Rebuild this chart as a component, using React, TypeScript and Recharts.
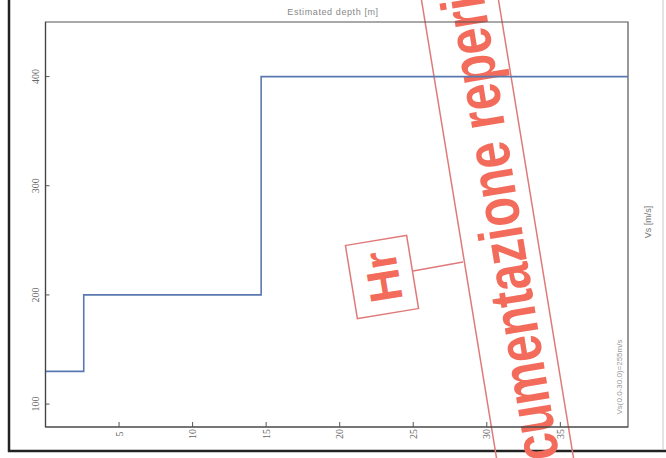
import React from 'react';
import { LineChart, Line, XAxis, YAxis, ReferenceArea, Customized } from 'recharts';

const depthM = [0, 2.6, 14.66, 39.6];
const vsValues = [130, 200, 400, 400];
const xTicks = [5, 10, 15, 20, 25, 30, 35];
const yTicks = [100, 200, 300, 400];
const xDomain = [0, 39.6];
const yDomain = [79, 450];

const titleText = 'Estimated depth [m]';
const rightLabel = 'Vs [m/s]';
const vs30Text = 'Vs(0.0-30.0)=255m/s';
const stampText = 'cumentazione reperi';
const stampBox = 'Hr';

const data = depthM.map((d, i) => ({ depth: d, vs: vsValues[i] }));

const tickFont = 'Liberation Serif, serif';

const XTick = (props: any) => {
  const { x, y, payload } = props;
  return (
    <g>
      <line x1={x} y1={y} x2={x} y2={y - 5} stroke="#555" strokeWidth={1} />
      <text
        x={0}
        y={0}
        transform={`translate(${x},${y + 7}) rotate(-90)`}
        textAnchor="middle"
        dominantBaseline="central"
        fontSize={10}
        fontFamily={tickFont}
        fill="#666"
      >
        {payload.value}
      </text>
    </g>
  );
};

const YTick = (props: any) => {
  const { x, y, payload } = props;
  return (
    <g>
      <line x1={x} y1={y} x2={x + 4} y2={y} stroke="#555" strokeWidth={1} />
      <text
        x={0}
        y={0}
        transform={`translate(${x - 10},${y}) rotate(-90)`}
        textAnchor="middle"
        dominantBaseline="central"
        fontSize={10}
        fontFamily={tickFont}
        fill="#666"
      >
        {payload.value}
      </text>
    </g>
  );
};

const Decorations = () => {
  const red = '#f26b5b';
  const redLine = '#e07a7a';
  return (
    <g>
      {/* outer scan frame */}
      <line x1={9} y1={0} x2={9} y2={452} stroke="#222" strokeWidth={2.5} />
      <line x1={8} y1={451} x2={666} y2={451} stroke="#222" strokeWidth={2.5} />
      <line x1={663} y1={0} x2={663} y2={450} stroke="#c8c8c8" strokeWidth={1} />
      {/* texts */}
      <text x={333} y={15} textAnchor="middle" fontSize={9} fontFamily="Liberation Sans, sans-serif" fill="#888" letterSpacing={0.6}>
        {titleText}
      </text>
      <text
        x={0}
        y={0}
        transform="translate(648,222) rotate(-90)"
        textAnchor="middle"
        dominantBaseline="central"
        fontSize={9}
        fontFamily="Liberation Sans, sans-serif"
        fill="#777"
      >
        {rightLabel}
      </text>
      <text
        x={0}
        y={0}
        transform="translate(619,377) rotate(-90)"
        textAnchor="middle"
        dominantBaseline="central"
        fontSize={8}
        fontFamily="Liberation Sans, sans-serif"
        fill="#999"
      >
        {vs30Text}
      </text>
      {/* stamp band */}
      <g transform="translate(497.5,229) rotate(-99.3)">
        <rect x={-320} y={-38} width={640} height={76} fill="none" stroke={redLine} strokeWidth={1.5} />
        <text
          x={0}
          y={24}
          textAnchor="middle"
          fontSize={62}
          fontWeight="bold"
          fontFamily="Liberation Sans, Arial, sans-serif"
          fill={red}
          textLength={470}
          lengthAdjust="spacingAndGlyphs"
        >
          {stampText}
        </text>
      </g>
      <line x1={413} y1={271} x2={463} y2={262} stroke={redLine} strokeWidth={1.5} />
      <g transform="translate(382,277) rotate(-99.3)">
        <rect x={-37} y={-31} width={74} height={62} fill="white" fillOpacity={0} stroke={redLine} strokeWidth={1.5} />
        <text
          x={0}
          y={17}
          textAnchor="middle"
          fontSize={46}
          fontWeight="bold"
          fontFamily="Liberation Sans, Arial, sans-serif"
          fill={red}
        >
          {stampBox}
        </text>
      </g>
    </g>
  );
};

export default function App() {
  return (
    <div style={{ position: 'absolute', left: 0, top: 0, background: '#fff' }}>
      <LineChart
        width={666}
        height={458}
        data={data}
        margin={{ top: 22, right: 38, bottom: 0, left: 9.5 }}
      >
        <XAxis
          dataKey="depth"
          type="number"
          domain={xDomain}
          ticks={xTicks}
          allowDataOverflow
          height={31}
          tickSize={0}
          tickMargin={0}
          tickLine={false}
          axisLine={{ stroke: '#444', strokeWidth: 1.2 }}
          tick={<XTick />}
        />
        <YAxis
          type="number"
          domain={yDomain}
          ticks={yTicks}
          allowDataOverflow
          width={36}
          tickSize={0}
          tickMargin={0}
          tickLine={false}
          axisLine={{ stroke: '#444', strokeWidth: 1.2 }}
          tick={<YTick />}
        />
        <ReferenceArea
          x1={xDomain[0]}
          x2={xDomain[1]}
          y1={yDomain[0]}
          y2={yDomain[1]}
          fill="none"
          stroke="#555"
          strokeWidth={1.2}
          ifOverflow="visible"
        />
        <Line
          type="stepAfter"
          dataKey="vs"
          stroke="#5a78b0"
          strokeWidth={1.6}
          dot={false}
          isAnimationActive={false}
        />
        <Customized component={<Decorations />} />
      </LineChart>
    </div>
  );
}
